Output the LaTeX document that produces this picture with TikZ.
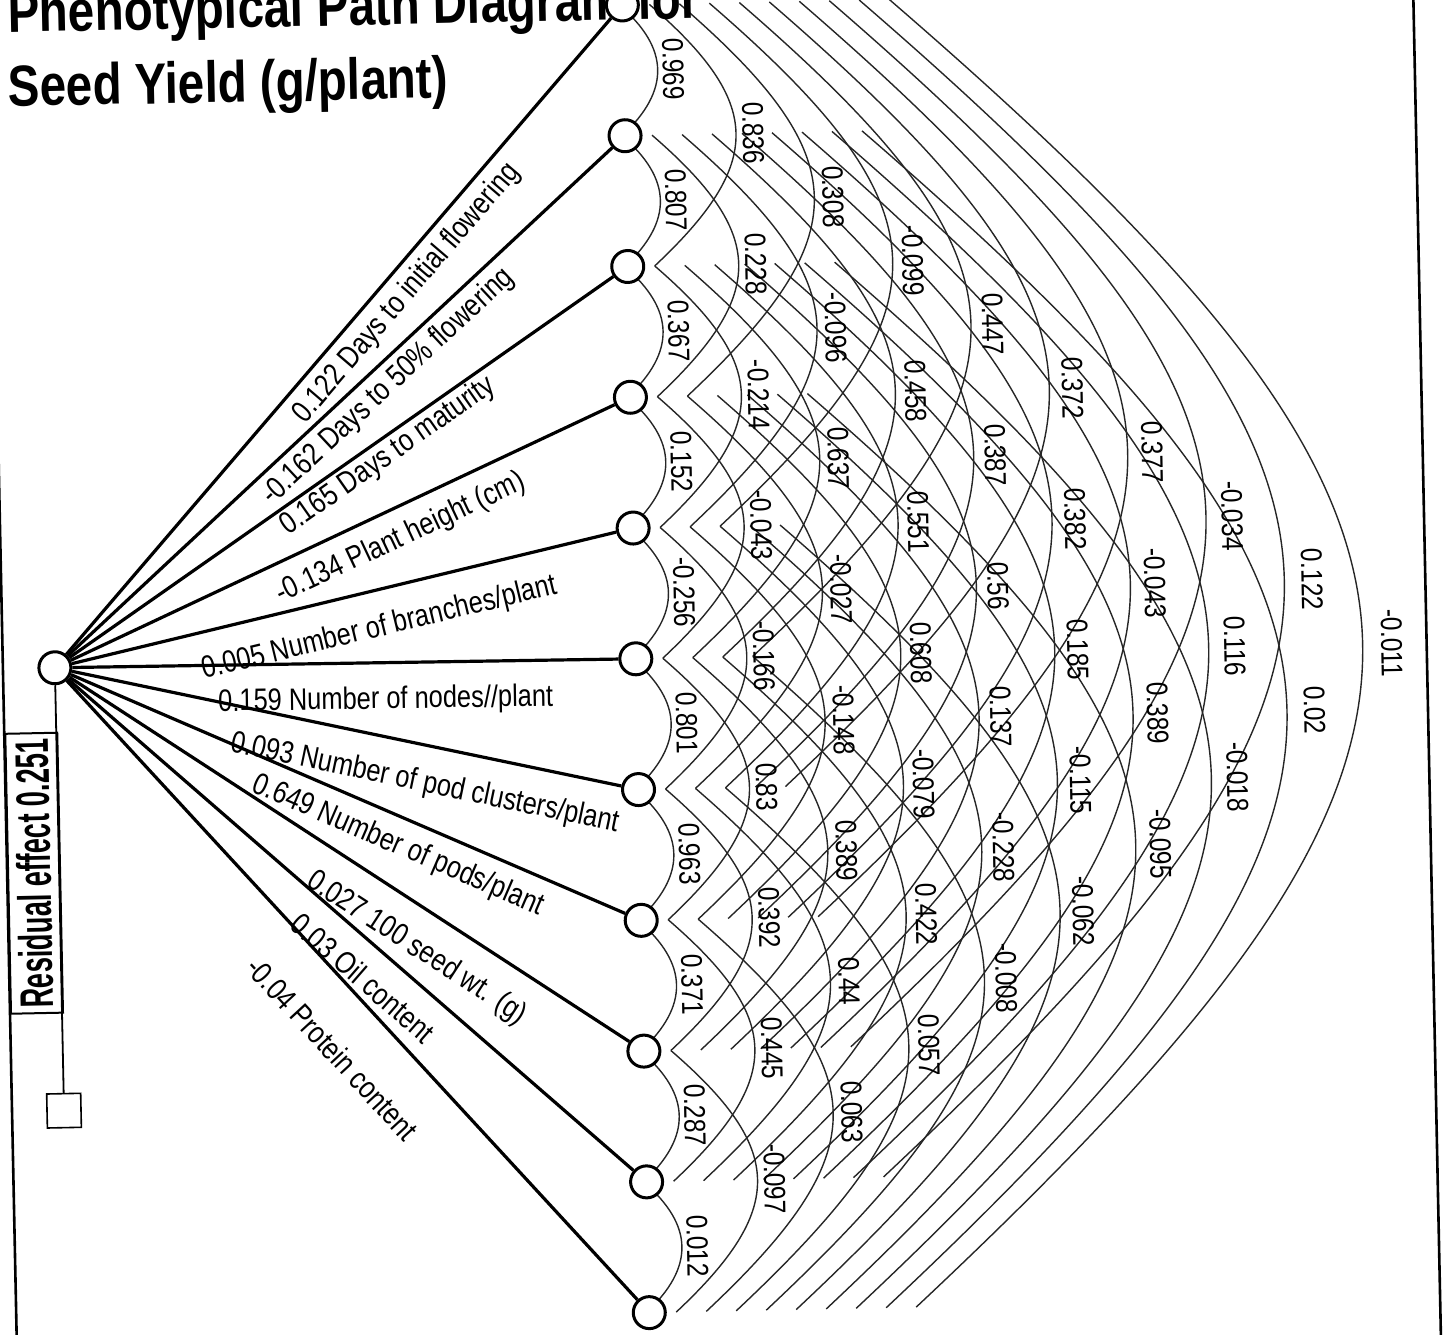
\documentclass[tikz,border=0pt]{standalone}
\usepackage{fontspec}
\setmainfont{Liberation Sans}
\usetikzlibrary{calc,backgrounds}

% narrow face, as in the printed diagram
\newcommand{\narrowtext}[2][0.82]{\scalebox{#1}[1]{#2}}

\begin{document}
\begin{tikzpicture}[x=0.5pt, y=-0.5pt,
    trait/.style={circle, draw, fill=white, line width=1.5pt, minimum size=16pt, inner sep=0pt},
    pathline/.style={line width=1.6pt},
    corr/.style={line width=0.7pt, black!85},
    coeff/.style={font=\fontsize{15.5}{18}\selectfont, inner sep=1pt},
    rlabel/.style={font=\fontsize{15}{18}\selectfont, rotate=-90, inner sep=1pt}]

  \useasboundingbox (0,0) rectangle (1446,1334);
  \clip (0,0) rectangle (1446,1334);

  \begin{scope}[rotate around={1.18:(723,667)}, transform shape]
    % frame
    \draw[line width=1.3pt] (3,-60) -- (3,1400);
    \draw[line width=1.3pt] (1427,-60) -- (1427,1400);

    % title
    \node[anchor=base west, inner sep=0pt, font=\fontsize{29}{34}\selectfont\bfseries] (title1) at (21,18) {\narrowtext{Phenotypical Path Diagram for}};
    \node[anchor=base west, inner sep=0pt, font=\fontsize{29}{34}\selectfont\bfseries] (title2) at (20,92) {\narrowtext{Seed Yield (g/plant)}};

    % yield and the eleven traits
    \node[trait] (src) at (55,654) {};
    \foreach \i in {1,...,11}
      \node[trait] (n\i) at (636,{3+130.8*(\i-1)}) {};

    % residual
    \node[draw, line width=0.8pt, minimum size=17pt, inner sep=0pt] (res) at (55,1097) {};
    \draw[line width=0.9pt] (src) -- (res);
    \node[draw, line width=1pt, rotate=90, minimum width=140pt, minimum height=26pt, inner sep=0pt,
          font=\fontsize{23.5}{28}\selectfont\bfseries] (resid) at (30,859) {\narrowtext[0.58]{Residual effect 0.251}};

    % direct effects
    \foreach \i/\p/\d/\txt in {
        1/0.592/12/{0.122 Days to initial flowering},
        2/0.561/11/{-0.162 Days to 50\% flowering},
        3/0.567/9/{0.165 Days to maturity},
        4/0.583/15/{-0.134 Plant height (cm)},
        5/0.549/19/{0.005 Number of branches/plant},
        6/0.573/19/{0.159 Number of nodes//plant},
        7/0.656/19/{0.093 Number of pod clusters/plant},
        8/0.610/14/{0.649 Number of pods/plant},
        9/0.657/19/{0.027 100 seed wt. (g)},
        10/0.559/16/{0.03 Oil content},
        11/0.535/27/{-0.04 Protein content}}
      \draw[pathline] (src) -- (n\i) node[coeff, pos=\p, sloped, yshift=-\d pt] {\narrowtext{\txt}};

    % correlations, one span at a time
    \foreach \k/\vals in {
        1/{0.969,0.807,0.367,0.152,-0.256,0.801,0.963,0.371,0.287,0.012},
        2/{0.836,0.228,-0.214,-0.043,-0.166,0.83,0.392,0.445,-0.097},
        3/{0.308,-0.096,0.637,-0.027,-0.148,0.389,0.44,0.063},
        4/{-0.099,0.458,0.551,0.608,-0.079,0.422,0.057},
        5/{0.447,0.387,0.56,0.137,-0.228,-0.008},
        6/{0.372,0.382,0.185,-0.115,-0.062},
        7/{0.377,-0.043,0.389,-0.095},
        8/{-0.034,0.116,-0.018},
        9/{0.122,0.02},
        10/{-0.011}} {
      \pgfmathsetmacro\off{30*\k-33}
      \pgfmathsetmacro\cx{(47*\k-10)/0.75}
      \pgfmathsetmacro\cy{0.9*\cx}
      \pgfmathsetmacro\lx{78.5*\k-29}
      \foreach \v [count=\i] in \vals {
        \pgfmathtruncatemacro\j{\i+\k}
        \begin{pgfonlayer}{background}
          \draw[corr] ($(n\i)+(\off,0)$) .. controls +(\cx,\cy) and +(\cx,-\cy) .. ($(n\j)+(\off,0)$);
        \end{pgfonlayer}
        \node[rlabel] (c\i-\j) at ($(n\i)!0.5!(n\j)+(\lx,0)$) {\narrowtext{\v}};
      }
    }
  \end{scope}
\end{tikzpicture}
\end{document}
